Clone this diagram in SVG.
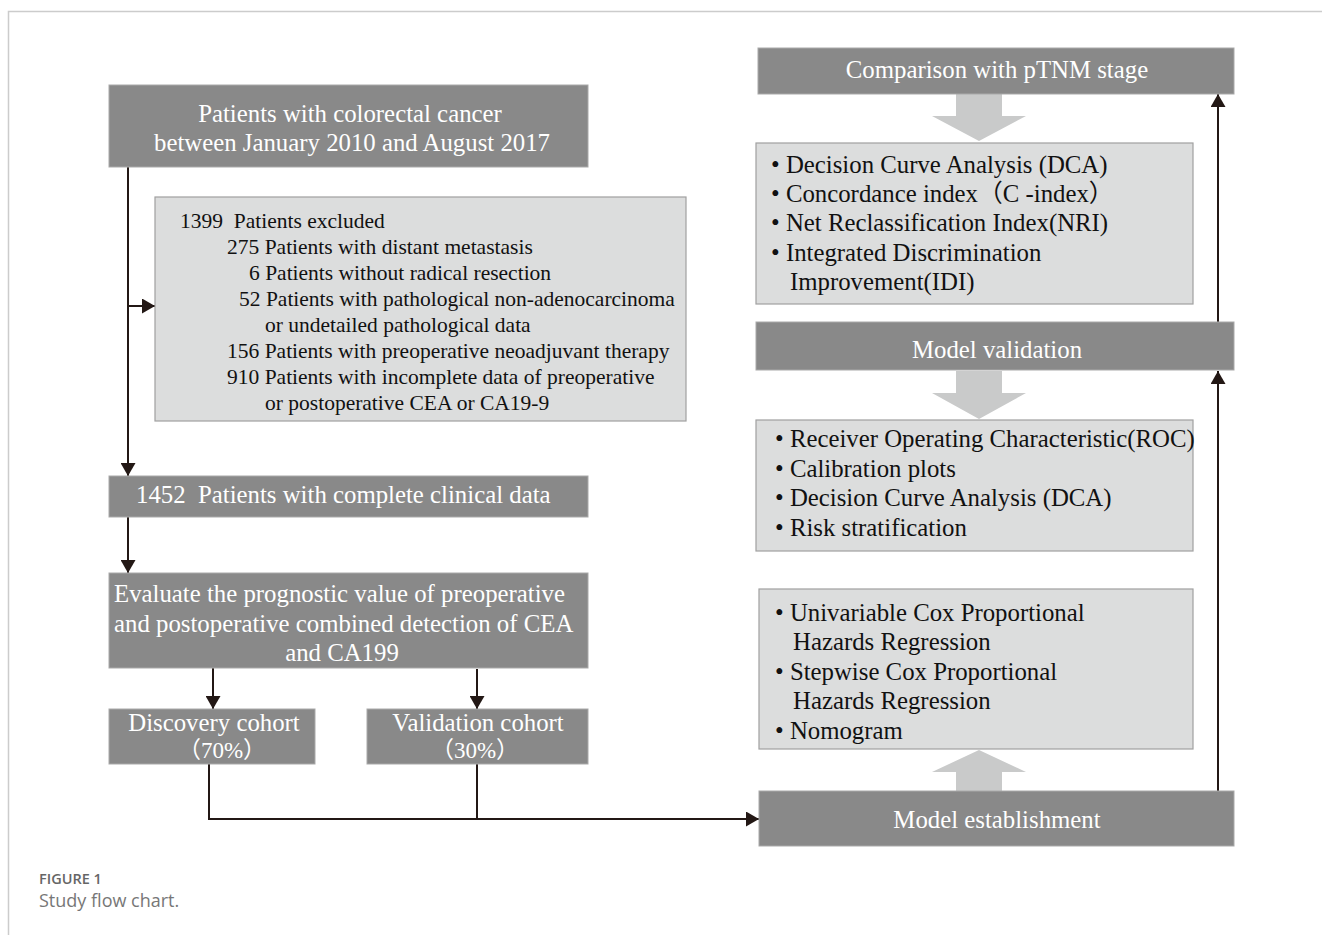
<svg xmlns="http://www.w3.org/2000/svg" width="1322" height="935" viewBox="0 0 1322 935">
<defs>
<style>
.dark{fill:#898989;stroke:#a9a9a9;stroke-width:1}
.light{fill:#dcdddd;stroke:#a0a0a0;stroke-width:1.2}
.wt{font-family:"Liberation Serif","Noto Sans CJK SC",serif;font-size:24.8px;fill:#ffffff}
.bt{font-family:"Liberation Serif","Noto Sans CJK SC",serif;font-size:24.8px;fill:#111111}
.ex{font-family:"Liberation Serif",serif;font-size:21.5px;fill:#111111}
.pc{font-size:23px}
.c{text-anchor:middle}
.ln{fill:none;stroke:#231815;stroke-width:2}
.big{fill:#c9caca}
</style>
<marker id="ah" markerUnits="userSpaceOnUse" markerWidth="14" markerHeight="15" refX="13" refY="7.5" orient="auto">
<path d="M0,0 L13,7.5 L0,15 z" fill="#231815"/>
</marker>
</defs>
<rect width="1322" height="935" fill="#ffffff"/>
<path d="M8.5 935 V11.5 H1322" fill="none" stroke="#cccccc" stroke-width="1.5"/>

<g id="connectors">
<path class="ln" d="M128 167 V476" marker-end="url(#ah)"/>
<path class="ln" d="M128 306 H155" marker-end="url(#ah)"/>
<path class="ln" d="M128 517 V573" marker-end="url(#ah)"/>
<path class="ln" d="M213 668 V709" marker-end="url(#ah)"/>
<path class="ln" d="M477 669 V709" marker-end="url(#ah)"/>
<path class="ln" d="M209 764 V819 H759" marker-end="url(#ah)"/>
<path class="ln" d="M477 764 V819"/>
<path class="ln" d="M1218 791 V371" marker-end="url(#ah)"/>
<path class="ln" d="M1218 322 V94" marker-end="url(#ah)"/>
<polygon class="big" points="956,94 1002,94 1002,116 1026,116 979,141 932,116 956,116"/>
<polygon class="big" points="956,371 1002,371 1002,393 1026,393 979,419 932,393 956,393"/>
<polygon class="big" points="956,791 1002,791 1002,772 1026,772 979,750 932,772 956,772"/>
</g>

<g id="n-patients">
<rect class="dark" x="109" y="85" width="479" height="82"/>
<text class="wt c" x="350" y="122">Patients with colorectal cancer</text>
<text class="wt c" x="352" y="151">between January 2010 and August 2017</text>
</g>

<g id="n-excluded">
<rect class="light" x="155" y="197" width="531" height="224"/>
<text class="ex" x="180" y="228">1399&#160; Patients excluded</text>
<text class="ex" x="227" y="254">275 Patients with distant metastasis</text>
<text class="ex" x="249" y="280">6 Patients without radical resection</text>
<text class="ex" x="239" y="306">52 Patients with pathological non-adenocarcinoma</text>
<text class="ex" x="265" y="332">or undetailed pathological data</text>
<text class="ex" x="227" y="358">156 Patients with preoperative neoadjuvant therapy</text>
<text class="ex" x="227" y="384">910 Patients with incomplete data of preoperative</text>
<text class="ex" x="265" y="410">or postoperative CEA or CA19-9</text>
</g>

<g id="n-complete">
<rect class="dark" x="109" y="476" width="479" height="41"/>
<text class="wt" x="136" y="503">1452&#160; Patients with complete clinical data</text>
</g>

<g id="n-evaluate">
<rect class="dark" x="109" y="573" width="479" height="95"/>
<text class="wt" x="114" y="602">Evaluate the prognostic value of preoperative</text>
<text class="wt" x="114" y="632">and postoperative combined detection of CEA</text>
<text class="wt c" x="342" y="661">and CA199</text>
</g>

<g id="n-discovery">
<rect class="dark" x="109" y="709" width="206" height="55"/>
<text class="wt c" x="214" y="731">Discovery cohort</text>
<text class="wt c pc" x="222" y="758">（70%）</text>
</g>

<g id="n-validation">
<rect class="dark" x="367" y="709" width="221" height="55"/>
<text class="wt c" x="478" y="731">Validation cohort</text>
<text class="wt c pc" x="475" y="758">（30%）</text>
</g>

<g id="n-comparison">
<rect class="dark" x="758" y="48" width="476" height="46"/>
<text class="wt c" x="997" y="78">Comparison with pTNM stage</text>
</g>

<g id="n-comparison-methods">
<rect class="light" x="756" y="143" width="437" height="161"/>
<text class="bt" x="771" y="173">• Decision Curve Analysis (DCA)</text>
<text class="bt" x="771" y="202">• Concordance index（C -index）</text>
<text class="bt" x="771" y="231">• Net Reclassification Index(NRI)</text>
<text class="bt" x="771" y="261">• Integrated Discrimination</text>
<text class="bt" x="790" y="290">Improvement(IDI)</text>
</g>

<g id="n-model-validation">
<rect class="dark" x="756" y="322" width="478" height="48"/>
<text class="wt c" x="997" y="358">Model validation</text>
</g>

<g id="n-validation-methods">
<rect class="light" x="756" y="420" width="437" height="131"/>
<text class="bt" x="775" y="447">• Receiver Operating Characteristic(ROC)</text>
<text class="bt" x="775" y="477">• Calibration plots</text>
<text class="bt" x="775" y="506">• Decision Curve Analysis (DCA)</text>
<text class="bt" x="775" y="536">• Risk stratification</text>
</g>

<g id="n-establishment-methods">
<rect class="light" x="759" y="589" width="434" height="160"/>
<text class="bt" x="775" y="621">• Univariable Cox Proportional</text>
<text class="bt" x="793" y="650">Hazards Regression</text>
<text class="bt" x="775" y="680">• Stepwise Cox Proportional</text>
<text class="bt" x="793" y="709">Hazards Regression</text>
<text class="bt" x="775" y="739">• Nomogram</text>
</g>

<g id="n-model-establishment">
<rect class="dark" x="759" y="791" width="475" height="55"/>
<text class="wt c" x="997" y="828">Model establishment</text>
</g>

<g id="caption">
<text x="39" y="884" font-family="Open Sans, sans-serif" font-size="14.5" font-weight="600" fill="#666666">FIGURE 1</text>
<text x="39" y="907" font-family="Open Sans, sans-serif" font-size="18" fill="#777777">Study flow chart.</text>
</g>
</svg>
